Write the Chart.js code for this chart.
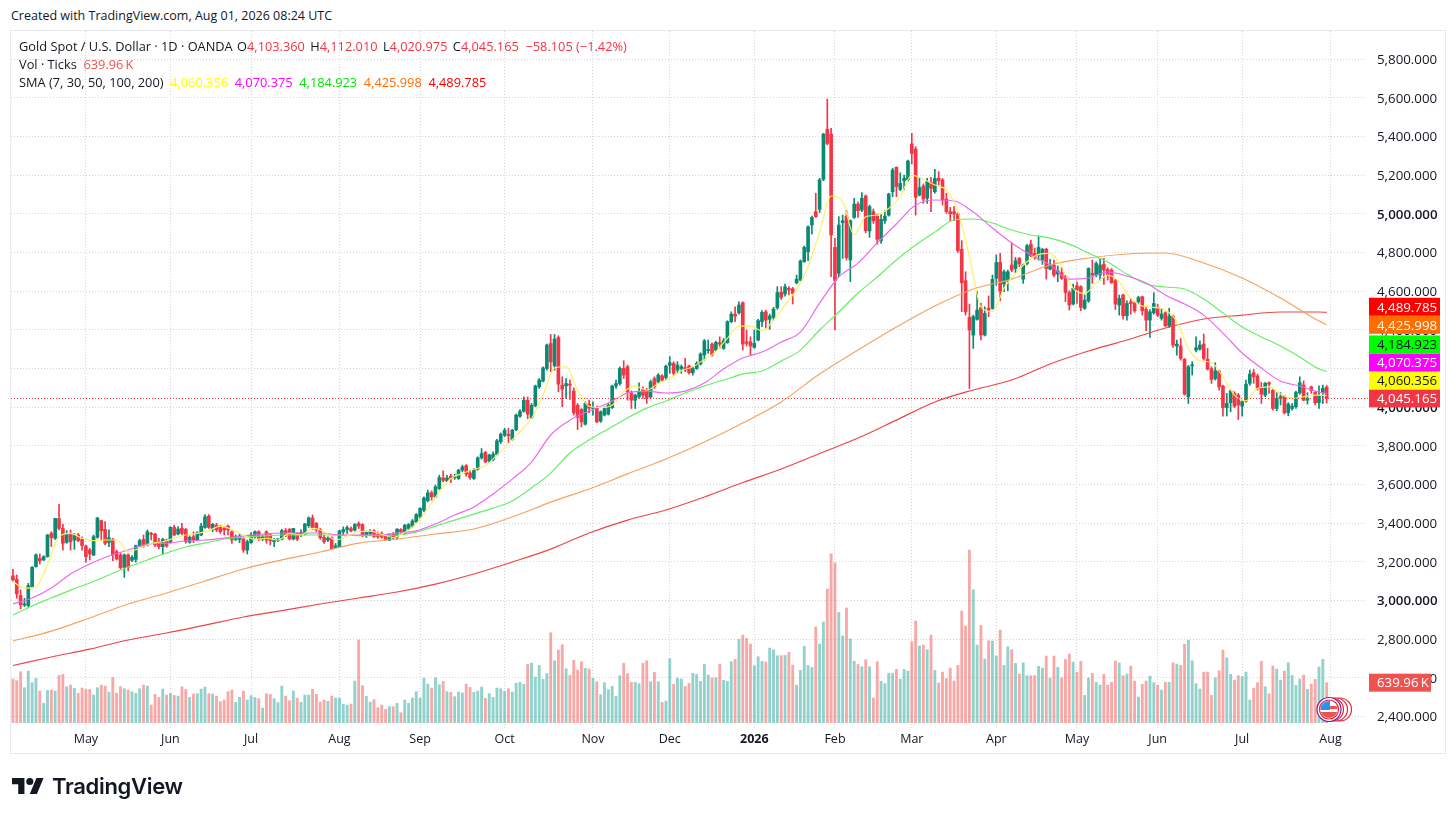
<!DOCTYPE html>
<html>
<head>
<meta charset="utf-8">
<title>Gold Spot / U.S. Dollar</title>
<script src="https://cdn.jsdelivr.net/npm/chart.js@4/dist/chart.umd.min.js"></script>
<style>
  html, body { margin: 0; background: #fff; }
  body { width: 1456px; height: 818px; position: relative; overflow: hidden; font-family: "Open Sans", sans-serif; color: #131722; }
  #frame { position: absolute; left: 10px; top: 30px; width: 1434px; height: 722px; border: 1px solid #e8eaf0; }
  canvas { position: absolute; left: 0; top: 0; }
  .t { position: absolute; white-space: nowrap; font-size: 12.8px; line-height: 16px; }
  .r { color: #f23645; }
  #logo { position: absolute; left: 12px; top: 777px; }
  #logoText { position: absolute; left: 52px; top: 771px; font: 600 22px/30px Inter, sans-serif; color: #131722; letter-spacing: -0.3px; }
</style>
</head>
<body>
<div class="t" style="left:11px;top:8px;font-size:12.5px">Created with TradingView.com, Aug 01, 2026 08:24 UTC</div>
<div id="frame"></div>
<canvas id="grafico" width="1456" height="818"></canvas>
<div class="t" style="left:19px;top:38px">Gold Spot / U.S. Dollar · 1D · OANDA <span style="margin-left:1px">O</span><span class="r">4,103.360</span> <span style="margin-left:2px">H</span><span class="r">4,112.010</span> <span style="margin-left:2px">L</span><span class="r">4,020.975</span> <span style="margin-left:2px">C</span><span class="r">4,045.165</span> &nbsp;<span class="r">−58.105 (−1.42%)</span></div>
<div class="t" style="left:19px;top:56px">Vol · Ticks &nbsp;<span style="color:#ef5350">639.96&#8201;K</span></div>
<div class="t" style="left:19px;top:74px">SMA (7, 30, 50, 100, 200) &nbsp;<span style="color:#ffff00">4,060.356</span> &nbsp;<span style="color:#ff00ff">4,070.375</span> &nbsp;<span style="color:#00e600">4,184.923</span> &nbsp;<span style="color:#ff6d00">4,425.998</span> &nbsp;<span style="color:#ff0000">4,489.785</span></div>
<svg id="logo" width="32" height="18" viewBox="0 3 36 20"><path fill="#131722" d="M14 22H7V11H0V4h14v18zM28 22h-8l7.5-18h8L28 22z"/><circle fill="#131722" cx="20" cy="8" r="4"/></svg>
<div id="logoText">TradingView</div>

<script>
// candles
const opens = [3127,3110,3026,2976,2974,3072,3175,3218,3210,3227,3347,3322,3423,3373,3301,3347,3313,3339,3316,3282,3261,3235,3327,3413,3368,3301,3316,3253,3236,3172,3236,3208,3213,3282,3316,3287,3347,3344,3304,3279,3313,3299,3378,3344,3373,3368,3301,3330,3313,3339,3378,3437,3368,3390,3382,3373,3385,3356,3316,3316,3318,3261,3299,3330,3356,3318,3356,3339,3304,3310,3318,3361,3368,3318,3347,3339,3344,3387,3427,3399,3368,3327,3313,3325,
3274,3278,3355,3367,3372,3364,3398,3393,3335,3347,3360,3343,3347,3333,3312,3343,3329,3367,3347,3372,3385,3407,3433,3467,3516,3557,3536,3579,3634,3619,3643,3636,3631,3674,3697,3660,3631,3679,3738,3766,3721,3729,3755,3821,3855,3859,3833,3884,3953,3979,4036,3945,4007,4105,4134,4200,4329,4214,4360,4114,4110,4119,4083,4010,3988,3912,4016,3993,3998,3928,3959,3964,3998,4109,4122,4200,4209,4074,4036,4053,4091,4088,4053,4148,4131,4162,4153,
4216,4226,4192,4200,4204,4212,4178,4200,4223,4270,4292,4326,4295,4333,4304,4333,4442,4481,4488,4540,4338,4338,4309,4347,4442,4493,4454,4464,4514,4593,4585,4614,4612,4643,4657,4752,4804,4942,5011,5023,5178,5437,5412,4826,4692,4954,4988,4761,4981,5050,5019,5092,4911,5011,4988,4861,4964,4993,5114,5240,5126,5171,5175,5361,5335,5097,5143,5080,5162,5114,5183,5175,5076,5011,5011,4999,4816,4654,4464,4373,4454,4516,4373,4511,4511,
4666,4749,4637,4652,4735,4717,4769,4662,4743,4843,4795,4786,4760,4817,4714,4735,4688,4695,4678,4592,4533,4628,4623,4511,4549,4692,4683,4683,4738,4712,4709,4654,4528,4580,4473,4545,4540,4545,4571,4505,4450,4488,4516,4459,4488,4419,4471,4316,4316,4247,4054,4214,4295,4300,4326,4248,4200,4147,4188,4109,3998,4023,4071,4062,4005,4031,4123,4178,4161,4100,4062,4126,4088,3993,4045,4057,3971,3993,4002,4074,4114,4036,4105,4076,4023,4076,4103.36];
const highs = [3162,3132,3055,3012,3089,3175,3241,3241,3232,3342,3356,3425,3497,3394,3361,3365,3347,3347,3330,3287,3270,3339,3430,3416,3408,3365,3322,3261,3244,3241,3241,3232,3287,3318,3339,3365,3353,3347,3322,3322,3318,3382,3390,3382,3399,3373,3334,3356,3356,3399,3445,3445,3399,3399,3390,3382,3390,3361,3339,3342,3322,3313,3351,3361,3361,3339,3361,3347,3322,3322,3368,3373,3373,3373,3351,3365,3399,3433,3442,3404,3373,3339,3330,3330,
3295,3364,3381,3386,3381,3398,3407,3398,3360,3367,3367,3355,3355,3341,3347,3352,3372,3372,3393,3398,3419,3450,3481,3536,3571,3567,3597,3648,3671,3648,3652,3653,3679,3700,3703,3674,3683,3743,3786,3772,3757,3769,3833,3867,3890,3890,3886,3964,3988,4053,4053,4019,4114,4148,4209,4326,4376,4376,4369,4157,4148,4140,4100,4019,3993,4028,4036,4028,4005,3981,4002,4019,4114,4140,4209,4240,4217,4084,4067,4126,4105,4097,4140,4157,4174,4169,4217,
4261,4235,4235,4218,4252,4218,4209,4235,4281,4350,4347,4333,4342,4364,4355,4447,4493,4519,4545,4545,4399,4364,4399,4454,4499,4502,4481,4516,4623,4623,4637,4623,4619,4683,4761,4833,4938,4988,5106,5183,5416,5593,5442,4873,4985,4993,5016,4968,5080,5062,5109,5097,5045,5025,4999,5002,5016,5106,5235,5243,5212,5200,5278,5416,5347,5188,5154,5183,5188,5230,5218,5183,5106,5033,5037,5006,4861,4700,4533,4476,4597,4537,4519,4575,4683,
4787,4795,4709,4709,4850,4774,4774,4740,4842,4864,4821,4885,4821,4821,4764,4760,4730,4721,4683,4602,4636,4648,4628,4580,4721,4761,4752,4764,4769,4721,4717,4661,4580,4585,4550,4562,4545,4574,4574,4522,4505,4592,4533,4511,4493,4511,4476,4347,4355,4252,4216,4235,4364,4343,4378,4304,4209,4230,4192,4114,4071,4088,4080,4071,4036,4140,4192,4195,4171,4128,4128,4131,4092,4075,4075,4062,4023,4019,4083,4157,4136,4075,4109,4080,4110,4114,4112.01];
const lows = [3100,3012,2957,2969,2966,3069,3172,3189,3206,3224,3279,3316,3365,3261,3296,3261,3265,3304,3261,3198,3210,3232,3322,3313,3287,3279,3206,3210,3163,3120,3153,3201,3198,3279,3275,3282,3313,3279,3267,3241,3275,3296,3335,3339,3339,3296,3296,3299,3310,3335,3373,3373,3356,3356,3347,3339,3339,3296,3310,3299,3249,3241,3296,3322,3310,3310,3296,3287,3279,3304,3313,3330,3313,3313,3310,3330,3339,3378,3368,3356,3316,3296,3304,3265,
3271,3274,3338,3347,3355,3359,3372,3329,3326,3338,3326,3321,3321,3312,3309,3316,3316,3347,3343,3367,3378,3402,3424,3459,3510,3519,3531,3574,3614,3614,3609,3626,3626,3666,3643,3626,3626,3674,3731,3712,3714,3722,3752,3812,3847,3816,3829,3878,3947,3974,3940,3940,4002,4097,4131,4191,4183,4191,4079,4002,4045,4040,3959,3884,3898,3907,3971,3959,3919,3921,3954,3959,3993,4097,4114,4148,4036,3993,3993,4045,4045,4019,4045,4097,4122,4134,4143,
4175,4166,4175,4175,4183,4171,4166,4195,4218,4243,4278,4264,4290,4304,4299,4330,4437,4442,4481,4295,4316,4269,4304,4343,4416,4407,4402,4450,4506,4557,4574,4580,4533,4637,4652,4749,4757,4895,4981,5006,5171,5356,4675,4399,4675,4769,4761,4649,4976,4981,5011,4902,4878,4950,4842,4847,4950,4988,5088,5088,5119,5123,5169,5257,4993,5092,5054,5054,5011,5106,5149,5045,5002,4964,4964,4800,4494,4476,4097,4304,4450,4347,4368,4468,4506,
4630,4550,4597,4602,4700,4695,4726,4640,4735,4778,4764,4760,4738,4662,4709,4674,4648,4660,4545,4502,4528,4536,4499,4505,4542,4640,4674,4657,4635,4657,4640,4505,4476,4455,4450,4480,4490,4536,4476,4395,4361,4481,4467,4450,4416,4412,4309,4269,4243,4062,4019,4166,4286,4295,4243,4192,4123,4140,4088,3954,3954,3976,3998,3936,3954,4026,4114,4123,4088,4019,4054,4071,3985,3981,4011,3964,3955,3985,3993,4067,4033,4016,4071,4011,3993,4019,4020.975];
const closes = [3107,3034,2978,2983,3077,3172,3236,3206,3227,3339,3325,3425,3373,3296,3344,3304,3342,3310,3284,3227,3241,3330,3427,3361,3296,3325,3236,3215,3170,3236,3172,3224,3284,3310,3282,3356,3342,3287,3279,3316,3282,3378,3339,3370,3347,3304,3327,3310,3351,3385,3433,3378,3394,3365,3356,3365,3365,3313,3330,3334,3261,3304,3339,3356,3316,3330,3313,3310,3316,3318,3361,3339,3318,3373,3318,3351,3396,3427,3377,3365,3325,3304,3323,3268,
3283,3360,3367,3377,3360,3393,3385,3335,3352,3357,3329,3329,3329,3317,3338,3326,3369,3355,3390,3393,3412,3445,3476,3531,3557,3536,3588,3636,3622,3634,3631,3643,3674,3691,3654,3636,3678,3738,3760,3717,3752,3757,3826,3859,3881,3852,3881,3959,3979,4036,3964,4010,4109,4140,4203,4321,4234,4352,4119,4093,4122,4114,3971,3947,3924,4019,3995,3998,3924,3976,3993,4010,4109,4122,4200,4166,4079,4036,4062,4079,4062,4045,4131,4105,4166,4140,4212,
4230,4175,4218,4209,4192,4178,4200,4226,4275,4343,4298,4270,4335,4326,4343,4442,4481,4471,4528,4326,4330,4316,4330,4447,4490,4450,4471,4507,4593,4568,4623,4606,4588,4662,4756,4826,4933,4981,4985,5175,5412,5364,4890,4654,4942,4964,4773,4964,5050,5016,5080,4912,5037,4964,4868,4971,4988,5102,5226,5140,5157,5183,5273,5312,5085,5135,5076,5166,5131,5183,5171,5071,5011,4999,4999,4809,4643,4493,4399,4468,4502,4373,4485,4502,4661,
4748,4600,4700,4700,4709,4757,4740,4735,4835,4783,4774,4826,4816,4717,4735,4683,4705,4666,4593,4528,4614,4605,4516,4554,4717,4683,4743,4735,4709,4683,4643,4533,4562,4473,4536,4536,4498,4567,4498,4450,4493,4536,4476,4481,4421,4471,4321,4326,4252,4067,4209,4217,4307,4321,4252,4197,4143,4188,4105,3998,4019,4085,4005,4011,4028,4119,4171,4157,4097,4067,4123,4119,3993,4045,4054,3971,4016,4005,4076,4126,4036,4045,4085,4023,4062,4097,4045.165];

// volume, thousands of ticks
const volumes = [698,672,815,560,826,640,709,506,309,517,522,506,757,773,576,602,549,469,554,533,533,442,560,602,586,490,725,474,576,544,522,496,469,544,602,586,282,453,405,538,442,469,437,426,576,533,405,458,464,538,570,464,458,426,336,362,496,522,325,405,506,362,432,405,384,234,464,453,384,320,586,426,352,506,394,325,442,442,533,453,330,362,341,426,394,394,293,282,298,666,1322,592,421,330,368,240,282,213,256,256,309,160,362,309,394,496,394,714,618,554,720,608,661,496,
485,416,490,474,618,565,485,506,570,389,464,405,554,544,501,544,490,629,645,613,933,954,730,917,693,784,1439,991,1162,1247,863,757,997,842,975,869,858,709,656,448,640,528,581,421,752,949,784,645,645,624,949,991,656,805,656,325,346,1023,613,714,698,581,629,789,773,661,933,762,714,720,933,677,661,975,1013,1333,1402,1349,1258,911,1055,981,970,1194,1167,1071,1071,1077,1125,922,602,837,1221,917,885,1531,1258,1611,
2139,2700,2555,1764,1387,1835,1339,981,933,895,1007,895,394,975,661,624,789,789,853,
698,853,826,1295,1626,1226,1242,1167,1402,837,634,810,704,874,666,917,1786,1546,2761,2127,1242,1556,1018,1311,1306,1066,1482,917,1215,1167,949,778,959,752,752,752,901,874,1066,714,1066,885,720,1013,1098,970,805,981,437,714,789,645,602,773,602,645,986,954,752,778,906,666,410,613,666,746,640,602,522,645,645,959,938,917,1253,1322,991,624,538,810,810,437,720,831,1162,1039,773,682,752,736,810,362,554,640,981,576,464,906,858,682,826,959,757,597,698,762,533,618,693,890,1013,639.96];

// moving averages, every few bars
const sma7 = [3098,3064,3072,3184,3330,3347,3322,3310,3313,3313,3253,3270,3296,3304,3322,3339,3347,3361,3385,3368,3339,3316,3322,3313,3347,3339,3373,3356,3313,3333,3355,3359,3343,3326,3352,3398,3476,3562,3631,3657,3679,3697,3752,3812,3872,3941,4062,4203,4209,4088,4005,3998,4010,4079,4109,4088,4122,4149,4188,4209,4247,4287,4356,4419,4419,4395,4450,4528,4609,4726,4907,5092,5062,4890,4985,4993,5028,5088,5200,5178,5149,5123,5011,4778,4519,4494,4614,4692,4752,4790,4795,4726,4614,4588,4640,4683,4649,4562,4523,4516,4502,4442,4304,4240,4231,4157,4062,4033,4097,4105,4068,4045,4054,4062,4060.356];
const sma30 = [2982,3013,3065,3137,3189,3230,3261,3292,3297,3308,3313,3323,3334,3344,3349,3349,3349,3339,3339,3339,3349,3360,3396,3442,3484,3551,3628,3716,3856,3933,3980,4021,4073,4083,4073,4083,4125,4197,4254,4285,4337,4388,4538,4673,4745,4849,4947,5045,5071,5066,5009,4926,4849,4787,4735,4662,4668,4699,4678,4642,4580,4533,4476,4383,4280,4202,4135,4109,4078,4070.375];
const sma50 = [2925,2972,3013,3054,3091,3132,3173,3210,3246,3277,3297,3318,3328,3334,3339,3339,3339,3339,3336,3336,3339,3354,3385,3416,3447,3478,3515,3582,3659,3763,3830,3887,3944,3995,4032,4073,4109,4140,4171,4187,4238,4295,4399,4492,4590,4673,4761,4838,4905,4968,4973,4952,4916,4890,4874,4843,4797,4750,4688,4637,4621,4611,4559,4487,4414,4363,4316,4259,4197,4184.923];
const sma100 = [2791,2842,2910,2982,3039,3101,3163,3210,3251,3297,3318,3344,3370,3432,3509,3577,3655,3732,3820,3918,4027,4171,4295,4414,4523,4611,4662,4735,4771,4792,4797,4745,4668,4564,4445,4425.998];
const sma200 = [2664,2708,2749,2796,2832,2873,2915,2948,2982,3013,3044,3085,3137,3199,3266,3349,3416,3468,3535,3610,3680,3760,3840,3933,4027,4089,4140,4223,4290,4347,4409,4456,4476,4492,4492,4489.785];

// axes
const monthLabels = ['May','Jun','Jul','Aug','Sep','Oct','Nov','Dec','2026','Feb','Mar','Apr','May','Jun','Jul','Aug'];
const monthBars = [19,41,62,85,106,128,151,171,193,214,234,256,277,298,320,343];
const priceTicks = [2400,2600,2800,3000,3200,3400,3600,3800,4000,4200,4400,4600,4800,5000,5200,5400,5600,5800];

// tags on the price axis
const tagValues = [4045.165,4060.356,4070.375,4184.923,4425.998,4489.785];
const tagColors = ['#f23645','#ffff00','#ff00ff','#00ff00','#ff6d00','#ff0000'];
const tagText = ['#fff','#131722','#fff','#131722','#fff','#fff'];

const GREEN = '#0b8a72', RED = '#f23645';
const FONT = '"Open Sans", sans-serif';
const slots = Array.from({length: 353}, (_, i) => String(i));

function up(i) { return closes[i] >= opens[i]; }

// moving average list -> one slot per bar, gaps between the read points
function sampled(values, step) {
    const line = new Array(opens.length).fill(null);
    values.forEach((v, k) => { line[Math.min(k * step, opens.length - 1)] = v; });
    return line;
}

function smaLine(values, step, color) {
    return {
        type: 'line', data: sampled(values, step), yAxisID: 'y', order: 0,
        borderColor: color, borderWidth: 1.15, pointRadius: 0, spanGaps: true,
        cubicInterpolationMode: 'monotone'
    };
}

const marcas = {
    id: 'marcas',
    afterDraw(chart) {
        const c = chart.ctx, y = chart.scales.y, v = chart.scales.y1, area = chart.chartArea;
        c.save();

        // last price line
        const yClose = Math.round(y.getPixelForValue(closes[closes.length - 1]));
        c.strokeStyle = RED; c.lineWidth = 1; c.setLineDash([1, 2]);
        c.beginPath(); c.moveTo(area.left, yClose + .5); c.lineTo(area.right + 2, yClose + .5); c.stroke();
        c.setLineDash([]);

        c.font = '13.3px ' + FONT; c.textBaseline = 'middle'; c.textAlign = 'left';

        // tags pushed up when they overlap
        let prev = Infinity;
        tagValues.forEach((val, i) => {
            const ty = Math.min(y.getPixelForValue(val), prev - 18);
            prev = ty;
            c.fillStyle = tagColors[i];
            c.fillRect(1369, ty - 9, 71, 18);
            c.fillStyle = tagText[i];
            c.fillText(val.toLocaleString('en-US', {minimumFractionDigits: 3}), 1377, ty + 1);
        });

        // volume tag
        const vy = v.getPixelForValue(volumes[volumes.length - 1]);
        c.fillStyle = '#ef5350';
        c.fillRect(1369, vy - 9, 62, 18);
        c.fillStyle = '#fff';
        c.fillText('639.96\u2009K', 1377, vy + 1);

        // flag with event rings
        [1340, 1336, 1332].forEach(cx => {
            c.beginPath(); c.arc(cx, 709.5, 11.5, 0, Math.PI * 2);
            c.fillStyle = '#fff'; c.fill();
            c.strokeStyle = '#e8222e'; c.lineWidth = 1.2; c.stroke();
        });
        c.beginPath(); c.arc(1329, 709.5, 12, 0, Math.PI * 2);
        c.fillStyle = '#fff'; c.fill();
        c.strokeStyle = '#7b1fa2'; c.lineWidth = 1.2; c.stroke();
        c.beginPath(); c.arc(1329, 709.5, 9.5, 0, Math.PI * 2);
        c.strokeStyle = '#e8222e'; c.stroke();
        c.save();
        c.beginPath(); c.arc(1329, 709.5, 8.5, 0, Math.PI * 2); c.clip();
        c.fillStyle = '#fff'; c.fillRect(1320, 701, 18, 18);
        c.fillStyle = '#ef5350'; c.fillRect(1320, 706, 18, 3); c.fillRect(1320, 712, 18, 8);
        c.fillStyle = '#2196f3'; c.fillRect(1320, 701, 10, 9);
        c.restore();

        c.restore();
    }
};

new Chart(document.getElementById('grafico'), {
    type: 'bar',
    plugins: [marcas],
    data: {
        labels: slots,
        datasets: [
            smaLine(sma7, 3, '#fff05e'),
            smaLine(sma30, 5, '#ee66ee'),
            smaLine(sma50, 5, '#66ee66'),
            smaLine(sma100, 10, '#f5a25d'),
            smaLine(sma200, 10, '#ef4444'),
            {   // bodies
                data: opens.map((o, i) => [o, closes[i]]),
                yAxisID: 'y', order: 1, grouped: false, barThickness: 3, minBarLength: 1,
                backgroundColor: opens.map((o, i) => up(i) ? GREEN : RED)
            },
            {   // wicks
                data: lows.map((l, i) => [l, highs[i]]),
                yAxisID: 'y', order: 2, grouped: false, barThickness: 1,
                backgroundColor: opens.map((o, i) => up(i) ? GREEN : RED)
            },
            {   // volume
                data: volumes,
                yAxisID: 'y1', order: 3, grouped: false, barThickness: 2.2,
                backgroundColor: opens.map((o, i) => up(i) ? 'rgba(38,166,154,.5)' : 'rgba(239,83,80,.5)')
            }
        ]
    },
    options: {
        responsive: false,
        devicePixelRatio: 1,
        animation: false,
        events: [],
        layout: {padding: {left: 11, top: 31, right: 11, bottom: 66}},
        plugins: {legend: {display: false}, tooltip: {enabled: false}},
        scales: {
            x: {
                afterBuildTicks(s) { s.ticks = monthBars.map(i => ({value: i})); },
                afterFit(s) { s.height = 22; },
                grid: {color: '#d3d6db', offset: false, drawTicks: false},
                border: {display: false, dash: [1, 2]},
                ticks: {
                    autoSkip: false, maxRotation: 0, padding: 2, color: '#131722',
                    callback: (v, i) => monthLabels[i],
                    font: ctx => ({family: FONT, size: 12.5, weight: ctx.tick && ctx.tick.label === '2026' ? 'bold' : 'normal'})
                }
            },
            y: {
                position: 'right', min: 2330.6, max: 5945,
                afterBuildTicks(s) { s.ticks = priceTicks.map(value => ({value})); },
                afterFit(s) { s.width = 78; },
                grid: {color: '#d3d6db', drawTicks: false},
                border: {display: false, dash: [1, 2]},
                ticks: {
                    padding: 10, color: '#131722', labelOffset: 1,
                    callback: v => v.toLocaleString('en-US', {minimumFractionDigits: 3}),
                    font: ctx => ({family: FONT, size: 13.3, weight: ctx.tick && ctx.tick.value % 1000 === 0 ? 600 : 'normal'})
                }
            },
            y1: {display: false, min: -117, max: 11067}
        }
    }
});
</script>
</body>
</html>
